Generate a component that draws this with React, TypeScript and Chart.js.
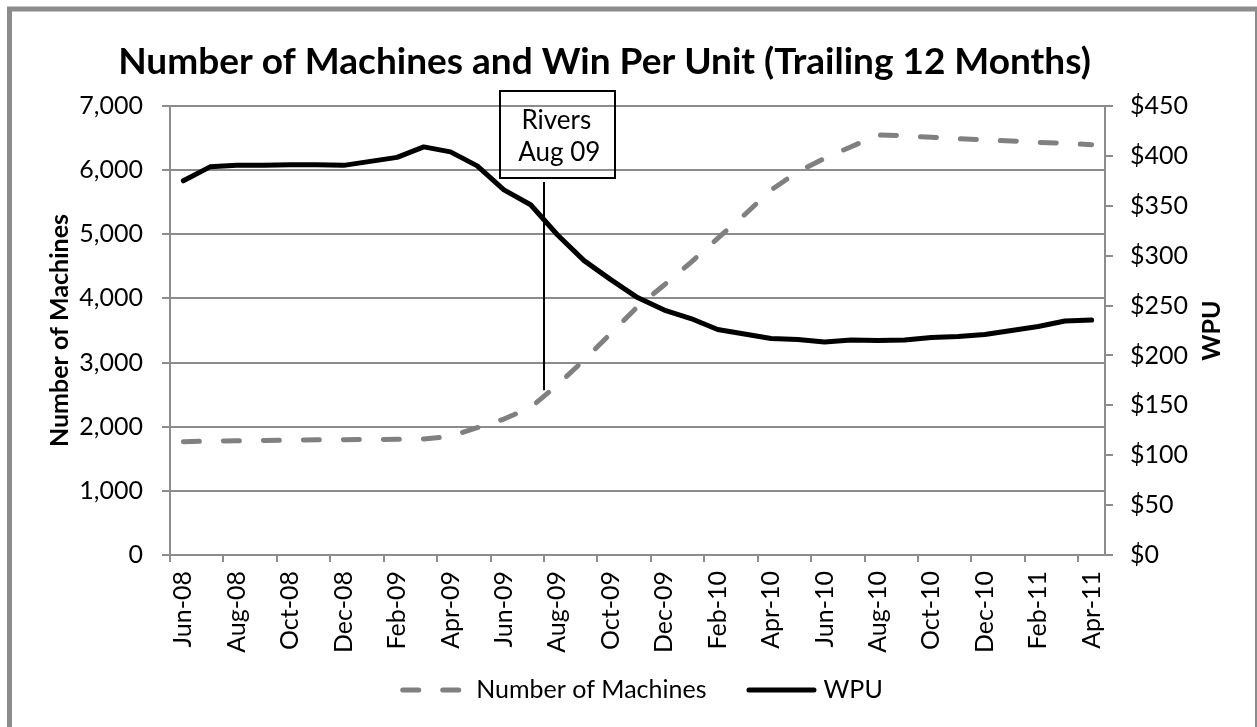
import React, { useEffect, useRef } from 'react';
import { Chart, registerables } from 'chart.js';

Chart.register(...registerables);

// ---------- data ----------
const months = [
  'Jun-08', 'Jul-08', 'Aug-08', 'Sep-08', 'Oct-08', 'Nov-08', 'Dec-08',
  'Jan-09', 'Feb-09', 'Mar-09', 'Apr-09', 'May-09', 'Jun-09', 'Jul-09', 'Aug-09', 'Sep-09', 'Oct-09', 'Nov-09', 'Dec-09',
  'Jan-10', 'Feb-10', 'Mar-10', 'Apr-10', 'May-10', 'Jun-10', 'Jul-10', 'Aug-10', 'Sep-10', 'Oct-10', 'Nov-10', 'Dec-10',
  'Jan-11', 'Feb-11', 'Mar-11', 'Apr-11',
];

const machines = [
  1767, 1777, 1780, 1785, 1790, 1795, 1798,
  1800, 1805, 1810, 1850, 1985, 2120, 2302, 2650, 3040, 3455, 3871, 4209,
  4563, 4937, 5301, 5690, 5976, 6184, 6366, 6548, 6537, 6512, 6490, 6470,
  6454, 6434, 6418, 6397,
];

const wpu = [
  375, 389, 390.5, 390.5, 391, 391, 390.5,
  394.5, 398.5, 409, 404, 390, 366, 351, 321, 295, 276, 258, 245.5,
  237, 226, 221.5, 217, 216, 213.5, 215.5, 215, 215.5, 218, 219, 221,
  225, 229, 234.5, 235.5,
];

const TITLE = 'Number of Machines and Win Per Unit (Trailing 12 Months)';
const LEFT_TITLE = 'Number of Machines';
const RIGHT_TITLE = 'WPU';
const SERIES_NAMES = ['Number of Machines', 'WPU'];
const ANNOT_LINES = ['Rivers', 'Aug 09'];
const ANNOT_CATEGORY = 'Aug-09';
const ANNOT_LINE_BOTTOM = 2570; // in machines-axis units

const GRID = '#8c8c8c';
const FONT = 'Lato, "Open Sans", sans-serif';

export default function App() {
  const ref = useRef<HTMLCanvasElement>(null);

  useEffect(() => {
    document.body.style.margin = '0';
    const canvas = ref.current;
    if (!canvas) return;

    Chart.defaults.font.family = FONT;
    Chart.defaults.color = '#000';

    const framePlugin = {
      id: 'frame',
      beforeDraw(chart: any) {
        const { ctx } = chart;
        ctx.save();
        ctx.fillStyle = '#fff';
        ctx.fillRect(0, 0, chart.width, chart.height);
        ctx.strokeStyle = GRID;
        ctx.lineWidth = 5;
        ctx.strokeRect(9.5, 9, chart.width - 9, chart.height + 20);
        ctx.restore();
      },
    };

    const annotPlugin = {
      id: 'annot',
      afterDatasetsDraw(chart: any) {
        const { ctx, chartArea } = chart;
        const xs = chart.scales.x;
        const ys = chart.scales.y;
        const idx = months.indexOf(ANNOT_CATEGORY);
        const cx = xs.getPixelForValue(idx);
        const lx = Math.round(xs.getPixelForValue(idx - 0.5));
        const boxW = 115;
        const boxH = 87;
        const boxTop = chartArea.top - 15;
        ctx.save();
        ctx.strokeStyle = '#000';
        ctx.lineWidth = 2;
        ctx.strokeRect(Math.round(cx - boxW / 2), boxTop, boxW, boxH);
        ctx.beginPath();
        ctx.moveTo(lx, boxTop + boxH + 4);
        ctx.lineTo(lx, ys.getPixelForValue(ANNOT_LINE_BOTTOM));
        ctx.stroke();
        ctx.fillStyle = '#000';
        ctx.font = '26px ' + FONT;
        ctx.textAlign = 'center';
        ctx.textBaseline = 'middle';
        ctx.fillText(ANNOT_LINES[0], cx - 1, boxTop + 30);
        ctx.fillText(ANNOT_LINES[1], cx + 2, boxTop + 62);
        ctx.restore();
      },
      afterDraw(chart: any) {
        const { ctx, chartArea } = chart;
        // chart title (slightly left of centre, as in the source)
        ctx.save();
        ctx.fillStyle = '#000';
        ctx.font = 'bold 37px ' + FONT;
        ctx.textAlign = 'center';
        ctx.textBaseline = 'middle';
        ctx.fillText(TITLE, chart.width / 2 - 24, 62);
        ctx.restore();

        // right axis title (reads bottom-to-top)
        ctx.save();
        ctx.fillStyle = '#000';
        ctx.font = 'bold 25px ' + FONT;
        ctx.textAlign = 'center';
        ctx.textBaseline = 'middle';
        ctx.translate(chart.scales.y1.right - 45, (chartArea.top + chartArea.bottom) / 2);
        ctx.rotate(-Math.PI / 2);
        ctx.fillText(RIGHT_TITLE, 0, 0);
        ctx.restore();

        // legend
        const ds = chart.data.datasets;
        ctx.save();
        ctx.font = '25px ' + FONT;
        ctx.textBaseline = 'middle';
        ctx.textAlign = 'left';
        const w1 = ctx.measureText(SERIES_NAMES[0]).width;
        const w2 = ctx.measureText(SERIES_NAMES[1]).width;
        const s1 = 63, g1 = 13, gap = 40, s2 = 70, g2 = 7;
        const total = s1 + g1 + w1 + gap + s2 + g2 + w2;
        let x = chart.width / 2 + 13 - total / 2;
        const y = 690;
        ctx.lineCap = 'round';
        ctx.lineWidth = ds[0].borderWidth;
        ctx.strokeStyle = ds[0].borderColor;
        ctx.setLineDash(ds[0].borderDash);
        ctx.beginPath();
        ctx.moveTo(x + 2.5, y);
        ctx.lineTo(x + s1, y);
        ctx.stroke();
        x += s1 + g1;
        ctx.fillStyle = '#000';
        ctx.fillText(SERIES_NAMES[0], x, y);
        x += w1 + gap;
        ctx.setLineDash([]);
        ctx.lineWidth = ds[1].borderWidth;
        ctx.strokeStyle = ds[1].borderColor;
        ctx.beginPath();
        ctx.moveTo(x + 2.5, y);
        ctx.lineTo(x + s2 - 2.5, y);
        ctx.stroke();
        x += s2 + g2;
        ctx.fillText(SERIES_NAMES[1], x, y);
        ctx.restore();
      },
    };

    const chart = new Chart(canvas, {
      type: 'line',
      data: {
        labels: months,
        datasets: [
          {
            label: SERIES_NAMES[0],
            data: machines,
            yAxisID: 'y',
            borderColor: '#808080',
            borderWidth: 5,
            borderDash: [16, 24],
            borderCapStyle: 'round',
            borderJoinStyle: 'round',
            pointRadius: 0,
            pointHoverRadius: 0,
            tension: 0,
            fill: false,
            order: 1,
          },
          {
            label: SERIES_NAMES[1],
            data: wpu,
            yAxisID: 'y1',
            borderColor: '#000000',
            borderWidth: 5,
            borderCapStyle: 'round',
            borderJoinStyle: 'round',
            pointRadius: 0,
            pointHoverRadius: 0,
            tension: 0,
            fill: false,
            order: 0,
          },
        ],
      },
      options: {
        responsive: false,
        animation: false,
        events: [],
        layout: { padding: { top: 106, left: 0, right: 0, bottom: 0 } },
        plugins: {
          legend: { display: false },
          tooltip: { enabled: false },
          title: { display: false },
        },
        scales: {
          x: {
            type: 'category',
            offset: true,
            grid: {
              offset: true,
              drawOnChartArea: false,
              tickLength: 7,
              lineWidth: 2,
              color: GRID,
              tickColor: (c: any) => (c.index % 2 === 0 ? GRID : 'rgba(0,0,0,0)'),
            },
            border: { color: GRID, width: 2 },
            ticks: {
              autoSkip: false,
              maxRotation: 90,
              minRotation: 90,
              padding: 9,
              color: '#000',
              font: { size: 25 },
              callback: (_v: any, i: number) => (i % 2 === 0 ? months[i] : ''),
            },
            afterFit: (s: any) => { s.height = 172; },
          },
          y: {
            position: 'left',
            min: 0,
            max: 7000,
            ticks: {
              stepSize: 1000,
              padding: 19,
              color: '#000',
              font: { size: 25 },
              callback: (v: any) => Number(v).toLocaleString('en-US'),
            },
            grid: { color: GRID, lineWidth: 2, tickLength: 8, tickColor: GRID },
            border: { color: GRID, width: 2 },
            title: {
              display: true,
              text: LEFT_TITLE,
              color: '#000',
              font: { size: 25, weight: 'bold' },
              padding: { top: 45, bottom: 0 },
            },
            afterFit: (s: any) => { s.width = 170; },
          },
          y1: {
            position: 'right',
            min: 0,
            max: 450,
            ticks: {
              stepSize: 50,
              padding: 17,
              color: '#000',
              font: { size: 25 },
              callback: (v: any) => '$' + v,
            },
            grid: { drawOnChartArea: false, color: GRID, lineWidth: 2, tickLength: 8, tickColor: GRID },
            border: { color: GRID, width: 2 },
            afterFit: (s: any) => { s.width = 152; },
          },
        },
      } as any,
      plugins: [framePlugin, annotPlugin],
    });

    return () => chart.destroy();
  }, []);

  return (
    <div style={{ width: 1257, height: 727 }}>
      <canvas ref={ref} width={1257} height={727} style={{ display: 'block' }} />
    </div>
  );
}
